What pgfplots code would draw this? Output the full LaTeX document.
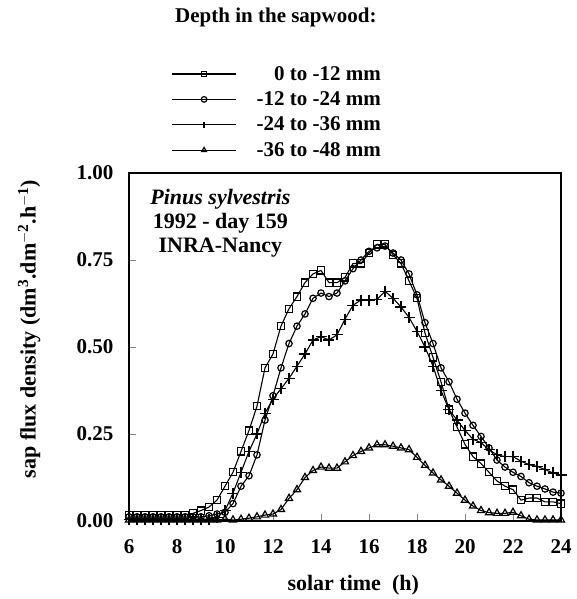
\documentclass[border=0pt]{standalone}
\usepackage{fontspec}
\setmainfont{Liberation Serif}
\usepackage{pgfplots}
\usepackage{pgfplotstable}
\pgfplotsset{compat=1.18}

% sap flux density, 20-min steps, solar time (h)
\pgfplotstableread{
t      sq     ci     pl     tr
6.000  0.018  0.012  0.005  0.003
6.333  0.018  0.012  0.005  0.003
6.667  0.018  0.012  0.005  0.003
7.000  0.018  0.012  0.005  0.003
7.333  0.018  0.012  0.005  0.003
7.667  0.018  0.012  0.005  0.003
8.000  0.018  0.012  0.005  0.003
8.333  0.018  0.012  0.005  0.003
8.667  0.022  0.012  0.005  0.003
9.000  0.030  0.012  0.005  0.003
9.333  0.040  0.015  0.005  0.003
9.667  0.060  0.020  0.010  0.003
10.000 0.100  0.025  0.030  0.005
10.333 0.140  0.050  0.080  0.003
10.667 0.200  0.100  0.140  0.005
11.000 0.260  0.130  0.200  0.008
11.333 0.330  0.190  0.250  0.012
11.667 0.440  0.290  0.310  0.017
12.000 0.480  0.360  0.350  0.020
12.333 0.560  0.440  0.380  0.033
12.667 0.610  0.510  0.410  0.065
13.000 0.645  0.560  0.445  0.090
13.333 0.685  0.595  0.480  0.125
13.667 0.710  0.640  0.520  0.145
14.000 0.720  0.655  0.530  0.155
14.333 0.685  0.645  0.520  0.152
14.667 0.685  0.655  0.535  0.152
15.000 0.700  0.690  0.580  0.170
15.333 0.740  0.725  0.620  0.188
15.667 0.740  0.750  0.635  0.200
16.000 0.770  0.775  0.635  0.210
16.333 0.795  0.785  0.637  0.219
16.667 0.795  0.790  0.660  0.219
17.000 0.765  0.770  0.640  0.215
17.333 0.740  0.750  0.615  0.210
17.667 0.690  0.710  0.585  0.205
18.000 0.640  0.650  0.545  0.183
18.333 0.540  0.570  0.500  0.160
18.667 0.470  0.510  0.445  0.138
19.000 0.400  0.440  0.375  0.118
19.333 0.320  0.400  0.320  0.100
19.667 0.270  0.350  0.290  0.080
20.000 0.220  0.310  0.260  0.060
20.333 0.185  0.275  0.235  0.043
20.667 0.165  0.243  0.225  0.030
21.000 0.140  0.210  0.205  0.024
21.333 0.115  0.175  0.190  0.022
21.667 0.100  0.155  0.185  0.022
22.000 0.090  0.140  0.185  0.025
22.333 0.060  0.128  0.172  0.015
22.667 0.066  0.110  0.162  0.005
23.000 0.066  0.100  0.157  0.003
23.333 0.055  0.092  0.148  0.003
23.667 0.055  0.083  0.138  0.003
24.000 0.050  0.080  0.132  0.003
}\sapdata

\begin{document}
\begin{tikzpicture}
\path[use as bounding box] (0,0) rectangle (576pt,599pt);
\begin{axis}[
    at={(129pt,78pt)}, anchor=south west,
    scale only axis,
    width=432pt, height=348pt,
    xmin=6, xmax=24, ymin=0, ymax=1,
    xtick={6,8,...,24},
    ytick={0,0.25,0.5,0.75,1},
    tick pos=left,
    tick align=inside,
    major tick length=7pt,
    clip=false,
    axis line style={line width=1.3pt},
    /pgf/number format/assume math mode=true,
    yticklabel style={font=\fontsize{21}{21}\selectfont\bfseries,
        /pgf/number format/fixed, /pgf/number format/fixed zerofill,
        /pgf/number format/precision=2, xshift=-12pt},
    xticklabel style={font=\fontsize{21}{21}\selectfont\bfseries, yshift=-15pt},
    xlabel={solar time\ \ (h)},
    ylabel={sap flux density (dm$^{\mathbf{3}}$.dm$^{\mathbf{-2}}$.h$^{\mathbf{-1}}$)},
    label style={font=\fontsize{22}{22}\selectfont\bfseries},
    xlabel style={at={(axis description cs:0.519,-0.184)}, anchor=center},
    ylabel style={at={(axis description cs:-0.231,0.552)}, anchor=center},
    every axis plot/.append style={black, line width=1.1pt, mark options={solid, fill=white, line width=1.2pt}},
    legend image code/.code={\draw[#1, line width=1.3pt, mark size=2.8pt, mark repeat=2, mark phase=2] plot coordinates {(0pt,0pt) (32pt,0pt) (64pt,0pt)};},
    legend style={at={(axis description cs:0.343,1.175)}, anchor=center,
        draw=none, fill=none, font=\fontsize{21}{21}\selectfont\bfseries,
        row sep=6pt, column sep=18pt, legend cell align=right},
]
\addplot[mark=square, mark size=3.6pt] table[x=t, y=sq] {\sapdata};
\addlegendentry{0 to -12 mm}
\addplot[mark=o, mark size=3.2pt] table[x=t, y=ci] {\sapdata};
\addlegendentry{-12 to -24 mm}
\addplot[mark=+, mark size=5.5pt] table[x=t, y=pl] {\sapdata};
\addlegendentry{-24 to -36 mm}
\addplot[mark=triangle, mark size=4.1pt] table[x=t, y=tr] {\sapdata};
\addlegendentry{-36 to -48 mm}

\node[font=\fontsize{21}{21}\selectfont\bfseries] at (axis description cs:0.340,1.447) {Depth in the sapwood:};
\node[anchor=north west, align=center, inner sep=0pt,
      font=\fontsize{22}{24}\selectfont\bfseries] at (axis description cs:0.049,0.955)
      {\textit{Pinus sylvestris}\\1992 - day 159\\INRA-Nancy};
\end{axis}
\end{tikzpicture}
\end{document}
